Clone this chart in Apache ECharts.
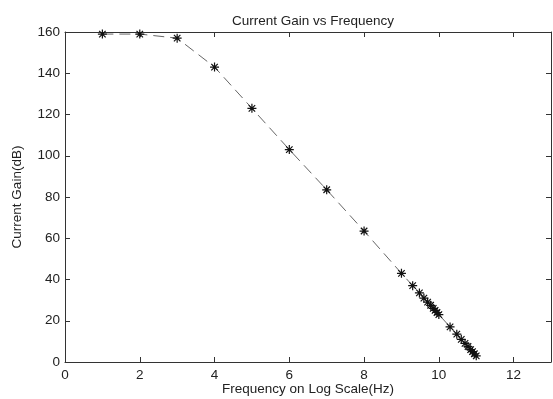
<!DOCTYPE html>
<html>
<head>
<meta charset="utf-8">
<script src="https://cdn.jsdelivr.net/npm/echarts@6/dist/echarts.min.js"></script>
<style>
html,body{margin:0;padding:0;background:#fff;}
#c{width:553px;height:399px;}
</style>
</head>
<body>
<div id="c"></div>
<script>
// Data (x = log10 frequency, y = current gain in dB)
var logFreq = [1, 2, 3, 4, 5, 6, 7, 8, 9, 9.3, 9.48, 9.6, 9.7, 9.78, 9.85, 9.9, 9.95, 10, 10.3, 10.48, 10.6, 10.7, 10.78, 10.85, 10.9, 10.95, 11];
var gainDb  = [159, 159, 157, 143, 123, 103, 83.5, 63.5, 43, 37, 33.5, 31, 29, 27.5, 26, 25, 24, 23, 17, 13.5, 11, 9, 7.5, 6, 5, 4, 3];
var xTicks = [0, 2, 4, 6, 8, 10, 12];
var yTicks = [0, 20, 40, 60, 80, 100, 120, 140, 160];
var titleText = 'Current Gain vs Frequency';
var xName = 'Frequency on Log Scale(Hz)';
var yName = 'Current Gain(dB)';

var points = logFreq.map(function (x, i) { return [x, gainDb[i]]; });
var star = 'path://M0,-5L0,5M-5,0L5,0M-3.6,-3.6L3.6,3.6M-3.6,3.6L3.6,-3.6';
var font = 'Liberation Sans, Arial, sans-serif';
var axisCol = '#333';
var txtCol = '#222';
var fs = 13.5;

function tick() { return {show: true, inside: true, length: 5, lineStyle: {color: axisCol, width: 1}}; }
function line() { return {show: true, onZero: false, lineStyle: {color: axisCol, width: 1}}; }

var chart = echarts.init(document.getElementById('c'), null, {renderer: 'canvas'});
chart.setOption({
  animation: false,
  backgroundColor: '#fff',
  title: {
    text: titleText, left: 308, top: 9, textAlign: 'center',
    textStyle: {fontFamily: font, fontSize: fs, fontWeight: 'normal', color: txtCol}
  },
  grid: {left: 65, right: 2, top: 32, bottom: 37, show: false, containLabel: false, outerBoundsMode: 'none'},
  xAxis: [{
    type: 'value', min: 0, max: 13, interval: 2, position: 'bottom',
    name: xName, nameLocation: 'middle', nameGap: 20, nameMoveOverlap: false,
    nameTextStyle: {fontFamily: font, fontSize: fs, color: txtCol, verticalAlign: 'top'},
    axisLine: line(), axisTick: tick(),
    axisLabel: {fontFamily: font, fontSize: fs, color: txtCol, margin: 6,
      formatter: function (v) { return xTicks.indexOf(v) >= 0 ? String(v) : ''; }},
    splitLine: {show: false}
  }, {
    type: 'value', min: 0, max: 13, interval: 2, position: 'top',
    axisLine: line(), axisTick: tick(),
    axisLabel: {show: false}, splitLine: {show: false}
  }],
  yAxis: [{
    type: 'value', min: 0, max: 160, interval: 20, position: 'left',
    name: yName, nameLocation: 'middle', nameGap: 41, nameRotate: 90, nameMoveOverlap: false,
    nameTextStyle: {fontFamily: font, fontSize: fs, color: txtCol},
    axisLine: line(), axisTick: tick(),
    axisLabel: {fontFamily: font, fontSize: fs, color: txtCol, margin: 5,
      formatter: function (v) { return yTicks.indexOf(v) >= 0 ? String(v) : ''; }},
    splitLine: {show: false}
  }, {
    type: 'value', min: 0, max: 160, interval: 20, position: 'right',
    axisLine: line(), axisTick: tick(),
    axisLabel: {show: false}, splitLine: {show: false}
  }],
  series: [{
    type: 'line',
    data: points,
    xAxisIndex: 0, yAxisIndex: 0,
    symbol: star, symbolSize: 9,
    showAllSymbol: true,
    lineStyle: {color: '#666', width: 1, type: [11, 6]},
    itemStyle: {color: 'rgba(0,0,0,0)', borderColor: '#111', borderWidth: 1.2},
    clip: false
  }]
});
</script>
</body>
</html>
